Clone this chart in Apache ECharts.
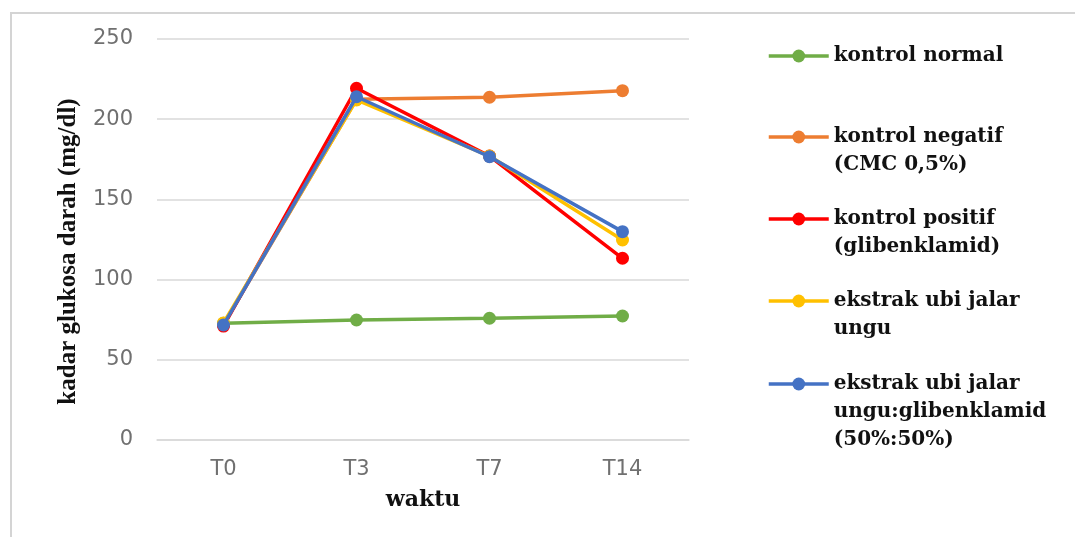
<!DOCTYPE html>
<html>
<head>
<meta charset="utf-8">
<script src="https://cdn.jsdelivr.net/npm/echarts@6/dist/echarts.min.js"></script>
<style>
html,body{margin:0;padding:0;background:#fff;}
#chart{width:1075px;height:537px;}
</style>
</head>
<body>
<div id="chart"></div>
<script>
// ---- data ----
const categories = ['T0', 'T3', 'T7', 'T14'];
const kontrolNormal = [72.8, 74.8, 75.9, 77.3];
const kontrolNegatif = [72, 212.4, 213.7, 217.8];
const kontrolPositif = [71, 219.3, 177, 113.3];
const ekstrakUbi = [73, 212, 177, 124.7];
const ekstrakKombinasi = [71.7, 214, 176.6, 129.9];
const seriesNames = [
  ['kontrol normal'],
  ['kontrol negatif', '(CMC 0,5%)'],
  ['kontrol positif', '(glibenklamid)'],
  ['ekstrak ubi jalar', 'ungu'],
  ['ekstrak ubi jalar', 'ungu:glibenklamid', '(50%:50%)']
];
const seriesData = [kontrolNormal, kontrolNegatif, kontrolPositif, ekstrakUbi, ekstrakKombinasi];
const yTicks = { min: 0, max: 250, interval: 50 };
const yAxisName = 'kadar glukosa darah (mg/dl)';
const xAxisName = 'waktu';

// ---- styling ----
const colors = ['#70AD47', '#ED7D31', '#FF0000', '#FFC000', '#4472C4'];
const legendFirstLineY = [56, 137, 219, 301, 384];
const LH = 28;

const names = seriesNames.map(l => l.join('\n'));

const series = seriesData.map((d, i) => ({
  name: names[i],
  type: 'line',
  data: d,
  symbol: 'circle',
  symbolSize: 13,
  lineStyle: { width: 3.5, color: colors[i] },
  itemStyle: { color: colors[i] },
  z: 2 + i,
  emphasis: { disabled: true }
}));

const legends = seriesNames.map((lines, i) => {
  const n = lines.length;
  const total = 2 * n - 1;
  return {
    data: [names[i]],
    orient: 'vertical',
    left: 767,
    top: legendFirstLineY[i] - total * LH / 2,
    padding: 0,
    itemWidth: 60,
    itemHeight: 16,
    lineStyle: { width: 3.5 },
    formatter: function () { return '\n'.repeat(n - 1) + lines.join('\n'); },
    textStyle: {
      fontFamily: 'DejaVu Serif',
      fontWeight: 'bold',
      fontSize: 20,
      color: '#111',
      lineHeight: LH
    }
  };
});

const chart = echarts.init(document.getElementById('chart'), null, { renderer: 'canvas' });
chart.setOption({
  animation: false,
  backgroundColor: '#fff',
  color: colors,
  grid: { left: 157, right: 386, top: 39, bottom: 97, containLabel: false },
  legend: legends,
  xAxis: {
    type: 'category',
    data: categories,
    boundaryGap: true,
    axisLine: { show: true, lineStyle: { color: '#d9d9d9', width: 1.5 } },
    axisTick: { show: false },
    axisLabel: { fontFamily: 'DejaVu Sans', fontSize: 21, color: '#707070', margin: 19 },
    name: xAxisName,
    nameLocation: 'middle',
    nameGap: 49,
    nameTextStyle: { fontFamily: 'DejaVu Serif', fontWeight: 'bold', fontSize: 22, color: '#111' }
  },
  yAxis: {
    type: 'value',
    min: yTicks.min,
    max: yTicks.max,
    interval: yTicks.interval,
    axisLine: { show: false },
    axisTick: { show: false },
    splitLine: { lineStyle: { color: '#d9d9d9', width: 1.5 } },
    axisLabel: { fontFamily: 'DejaVu Sans', fontSize: 21, color: '#707070', margin: 24 },
    name: yAxisName,
    nameLocation: 'middle',
    nameGap: 76,
    nameRotate: 90,
    nameTextStyle: { fontFamily: 'Liberation Serif', fontWeight: 'bold', fontSize: 25, color: '#111', padding: [0, 24, 0, 0] }
  },
  series: series,
  graphic: [{
    type: 'polyline',
    shape: { points: [[11, 537], [11, 13], [1075, 13]] },
    style: { stroke: '#d4d4d4', lineWidth: 2, fill: null },
    silent: true
  }]
});
</script>
</body>
</html>
